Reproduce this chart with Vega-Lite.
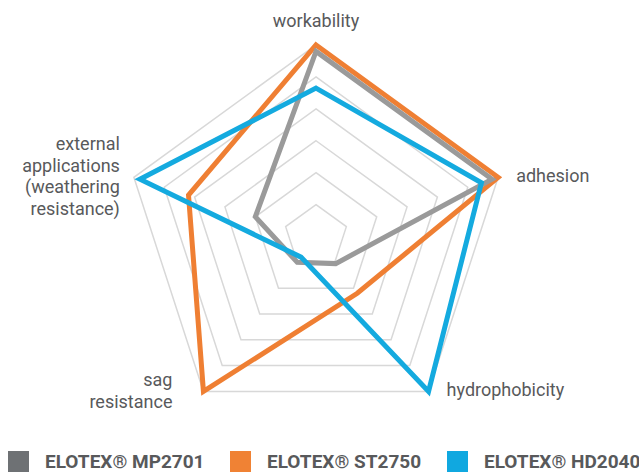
{
  "$schema": "https://vega.github.io/schema/vega-lite/v6.json",
  "width": 639,
  "height": 472,
  "autosize": {"type": "none"},
  "padding": 0,
  "background": "white",
  "config": {"view": {"stroke": null}, "font": "Roboto"},
  "datasets": {
    "scores": [
      {"product": "ELOTEX® ST2750", "attribute": "workability", "value": 6.0},
      {"product": "ELOTEX® ST2750", "attribute": "adhesion", "value": 6.0},
      {"product": "ELOTEX® ST2750", "attribute": "hydrophobicity", "value": 2.2},
      {"product": "ELOTEX® ST2750", "attribute": "sag resistance", "value": 6.0},
      {"product": "ELOTEX® ST2750", "attribute": "external applications", "value": 4.2},
      {"product": "ELOTEX® MP2701", "attribute": "workability", "value": 5.8},
      {"product": "ELOTEX® MP2701", "attribute": "adhesion", "value": 5.8},
      {"product": "ELOTEX® MP2701", "attribute": "hydrophobicity", "value": 1.05},
      {"product": "ELOTEX® MP2701", "attribute": "sag resistance", "value": 1.0},
      {"product": "ELOTEX® MP2701", "attribute": "external applications", "value": 2.0},
      {"product": "ELOTEX® HD2040", "attribute": "workability", "value": 4.65},
      {"product": "ELOTEX® HD2040", "attribute": "adhesion", "value": 5.45},
      {"product": "ELOTEX® HD2040", "attribute": "hydrophobicity", "value": 6.0},
      {"product": "ELOTEX® HD2040", "attribute": "sag resistance", "value": 0.8},
      {"product": "ELOTEX® HD2040", "attribute": "external applications", "value": 5.8}
    ],
    "grid": [
      {"level": 1, "axis": [0, 1, 2, 3, 4]},
      {"level": 2, "axis": [0, 1, 2, 3, 4]},
      {"level": 3, "axis": [0, 1, 2, 3, 4]},
      {"level": 4, "axis": [0, 1, 2, 3, 4]},
      {"level": 5, "axis": [0, 1, 2, 3, 4]},
      {"level": 6, "axis": [0, 1, 2, 3, 4]}
    ],
    "labels": [
      {"attribute": "workability", "text": "workability", "max": 6},
      {"attribute": "adhesion", "text": "adhesion", "max": 6},
      {"attribute": "hydrophobicity", "text": "hydrophobicity", "max": 6},
      {"attribute": "sag resistance", "text": "sag\nresistance", "max": 6},
      {"attribute": "external applications", "text": "external\napplications\n(weathering\nresistance)", "max": 6}
    ]
  },
  "encoding": {
    "x": {"field": "x", "type": "quantitative", "scale": {"domain": [-9.901, 10.12], "nice": false, "zero": false}, "axis": null},
    "y": {"field": "y", "type": "quantitative", "scale": {"domain": [-7.379, 7.41], "nice": false, "zero": false}, "axis": null}
  },
  "layer": [
    {
      "data": {"name": "grid"},
      "transform": [
        {"flatten": ["axis"]},
        {"calculate": "PI/2 - datum.axis*2*PI/5", "as": "theta"},
        {"calculate": "datum.level*cos(datum.theta)", "as": "x"},
        {"calculate": "datum.level*sin(datum.theta)", "as": "y"}
      ],
      "mark": {"type": "line", "interpolate": "linear-closed", "stroke": "#d8d8d8", "strokeWidth": 1.5},
      "encoding": {
        "detail": {"field": "level", "type": "nominal"},
        "order": {"field": "axis", "type": "quantitative"}
      }
    },
    {
      "data": {"name": "scores"},
      "transform": [
        {"calculate": "indexof(['workability','adhesion','hydrophobicity','sag resistance','external applications'], datum.attribute)", "as": "axis"},
        {"calculate": "PI/2 - datum.axis*2*PI/5", "as": "theta"},
        {"calculate": "datum.value*cos(datum.theta)", "as": "x"},
        {"calculate": "datum.value*sin(datum.theta)", "as": "y"}
      ],
      "mark": {"type": "line", "interpolate": "linear-closed", "strokeWidth": 5, "strokeJoin": "miter", "strokeMiterLimit": 10},
      "encoding": {
        "stroke": {
          "field": "product", "type": "nominal", "sort": null,
          "scale": {"domain": ["ELOTEX® ST2750", "ELOTEX® MP2701", "ELOTEX® HD2040"], "range": ["#ef7f33", "#9a9a9a", "#14aadf"]},
          "legend": null
        },
        "order": {"field": "axis", "type": "quantitative"}
      }
    },
    {
      "data": {"name": "labels"},
      "transform": [
        {"filter": "datum.attribute == 'workability'"},
        {"calculate": "indexof(['workability','adhesion','hydrophobicity','sag resistance','external applications'], datum.attribute)", "as": "axis"},
        {"calculate": "PI/2 - datum.axis*2*PI/5", "as": "theta"},
        {"calculate": "datum.max*cos(datum.theta)", "as": "x"},
        {"calculate": "datum.max*sin(datum.theta)", "as": "y"}
      ],
      "mark": {"type": "text", "align": "center", "baseline": "middle", "dy": -23, "fontSize": 18, "color": "#58595b", "font": "Roboto"},
      "encoding": {"text": {"field": "text", "type": "nominal"}}
    },
    {
      "data": {"name": "labels"},
      "transform": [
        {"filter": "datum.attribute == 'adhesion' || datum.attribute == 'hydrophobicity'"},
        {"calculate": "indexof(['workability','adhesion','hydrophobicity','sag resistance','external applications'], datum.attribute)", "as": "axis"},
        {"calculate": "PI/2 - datum.axis*2*PI/5", "as": "theta"},
        {"calculate": "datum.max*cos(datum.theta)", "as": "x"},
        {"calculate": "datum.max*sin(datum.theta)", "as": "y"}
      ],
      "mark": {"type": "text", "align": "left", "baseline": "middle", "dx": 18, "fontSize": 18, "color": "#58595b", "font": "Roboto"},
      "encoding": {"text": {"field": "text", "type": "nominal"}}
    },
    {
      "data": {"name": "labels"},
      "transform": [
        {"filter": "datum.attribute == 'sag resistance'"},
        {"calculate": "indexof(['workability','adhesion','hydrophobicity','sag resistance','external applications'], datum.attribute)", "as": "axis"},
        {"calculate": "PI/2 - datum.axis*2*PI/5", "as": "theta"},
        {"calculate": "datum.max*cos(datum.theta)", "as": "x"},
        {"calculate": "datum.max*sin(datum.theta)", "as": "y"}
      ],
      "mark": {"type": "text", "align": "right", "baseline": "middle", "dx": -31, "dy": -10, "lineBreak": "\n", "lineHeight": 21.5, "fontSize": 18, "color": "#58595b", "font": "Roboto"},
      "encoding": {"text": {"field": "text", "type": "nominal"}}
    },
    {
      "data": {"name": "labels"},
      "transform": [
        {"filter": "datum.attribute == 'external applications'"},
        {"calculate": "indexof(['workability','adhesion','hydrophobicity','sag resistance','external applications'], datum.attribute)", "as": "axis"},
        {"calculate": "PI/2 - datum.axis*2*PI/5", "as": "theta"},
        {"calculate": "datum.max*cos(datum.theta)", "as": "x"},
        {"calculate": "datum.max*sin(datum.theta)", "as": "y"}
      ],
      "mark": {"type": "text", "align": "right", "baseline": "middle", "dx": -14, "dy": -32, "lineBreak": "\n", "lineHeight": 21.5, "fontSize": 18, "color": "#58595b", "font": "Roboto"},
      "encoding": {"text": {"field": "text", "type": "nominal"}}
    },
    {
      "data": {"name": "scores"},
      "transform": [
        {"filter": "false"},
        {"calculate": "0", "as": "x"},
        {"calculate": "0", "as": "y"}
      ],
      "mark": {"type": "square"},
      "encoding": {
        "fill": {
          "field": "product", "type": "nominal",
          "scale": {"domain": ["ELOTEX® MP2701", "ELOTEX® ST2750", "ELOTEX® HD2040"], "range": ["#6e7174", "#f08234", "#10a8e0"]},
          "legend": {
            "orient": "none", "legendX": 8, "legendY": 451, "direction": "horizontal", "title": null,
            "symbolType": "square", "symbolSize": 441, "symbolStrokeWidth": 0, "symbolOpacity": 1,
            "labelFontSize": 19, "labelFontWeight": "bold", "labelColor": "#58595b", "labelFont": "Roboto",
            "labelOffset": 16, "columnPadding": 25, "labelLimit": 300
          }
        }
      }
    }
  ]
}
